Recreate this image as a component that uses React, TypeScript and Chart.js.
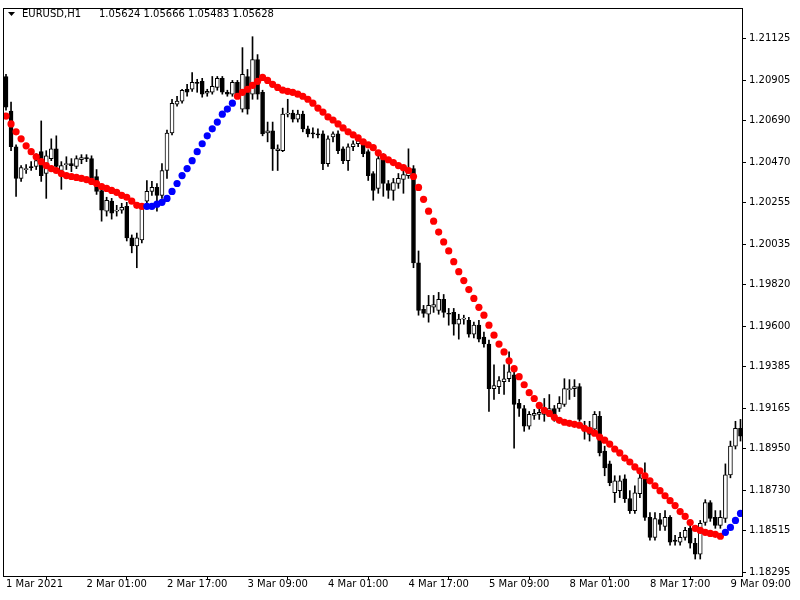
import React, { useEffect, useRef } from "react";
import { Chart, registerables } from "chart.js";

Chart.register(...registerables);

// Hourly EURUSD bars, 1 Mar 09:00 ... 9 Mar 11:00 (147 bars)
const openP = [
  1.20925, 1.20741, 1.20552, 1.20384, 1.20431, 1.20447, 1.20447, 1.20526, 1.2041, 1.20489,
  1.20541, 1.20426, 1.20457, 1.20462, 1.20447, 1.20483, 1.20494, 1.20489, 1.20394, 1.2032,
  1.2021, 1.20263, 1.2021, 1.20215, 1.20236, 1.20068, 1.20026, 1.20057, 1.20263, 1.20315,
  1.20336, 1.20294, 1.20426, 1.20625, 1.20778, 1.20794, 1.20857, 1.20857, 1.20894, 1.20899,
  1.20836, 1.20841, 1.20867, 1.20915, 1.20841, 1.20831, 1.20894, 1.20752, 1.20925, 1.20831,
  1.21015, 1.20841, 1.20625, 1.20636, 1.20531, 1.20531, 1.20725, 1.20731, 1.20699, 1.20725,
  1.20647, 1.20625, 1.2062, 1.2062, 1.20462, 1.20604, 1.2062, 1.20541, 1.20478, 1.20552,
  1.20568, 1.20568, 1.20526, 1.2041, 1.20331, 1.20499, 1.20357, 1.2032, 1.20357, 1.20378,
  1.20399, 1.20436, 1.19936, 1.19689, 1.19663, 1.197, 1.19684, 1.19742, 1.19668, 1.19673,
  1.1961, 1.19637, 1.19631, 1.19558, 1.19605, 1.19542, 1.19505, 1.19268, 1.19279, 1.19305,
  1.19321, 1.19342, 1.1919, 1.19163, 1.19069, 1.19126, 1.19132, 1.19132, 1.19147, 1.19163,
  1.19163, 1.19184, 1.19263, 1.19268, 1.19279, 1.19058, 1.19053, 1.19053, 1.19121, 1.18937,
  1.18869, 1.18716, 1.18727, 1.1879, 1.18685, 1.18621, 1.18711, 1.18806, 1.18585, 1.18479,
  1.18574, 1.18537, 1.18585, 1.18464, 1.18453, 1.18479, 1.18527, 1.18448, 1.1839, 1.18558,
  1.18664, 1.18585, 1.18543, 1.18579, 1.18811, 1.18963, 1.19058,
];

const highP = [
  1.20936, 1.20789, 1.20562, 1.20452, 1.20457, 1.20473, 1.20515, 1.20689, 1.20531, 1.20594,
  1.2061, 1.20473, 1.20499, 1.20489, 1.20504, 1.2051, 1.2051, 1.20504, 1.20431, 1.20336,
  1.20284, 1.20278, 1.20241, 1.20252, 1.20257, 1.20084, 1.20094, 1.20252, 1.20373, 1.20368,
  1.20357, 1.20462, 1.20641, 1.20804, 1.2082, 1.20857, 1.20883, 1.20946, 1.2091, 1.20915,
  1.20857, 1.20925, 1.20925, 1.20925, 1.20852, 1.20904, 1.20904, 1.21078, 1.20962, 1.21136,
  1.21041, 1.20852, 1.20683, 1.20683, 1.20562, 1.20757, 1.20804, 1.20746, 1.20746, 1.20741,
  1.20662, 1.20652, 1.20647, 1.20636, 1.2061, 1.20631, 1.20636, 1.20552, 1.20568, 1.20583,
  1.20604, 1.20583, 1.20536, 1.2042, 1.20515, 1.20515, 1.20373, 1.20384, 1.2041, 1.20452,
  1.20541, 1.20452, 1.19999, 1.1971, 1.19763, 1.19763, 1.19779, 1.19768, 1.19694, 1.19694,
  1.19663, 1.19658, 1.19647, 1.19621, 1.19631, 1.19568, 1.19526, 1.19395, 1.19332, 1.19395,
  1.19463, 1.19368, 1.19211, 1.19179, 1.19147, 1.19158, 1.19174, 1.19216, 1.19237, 1.19179,
  1.19226, 1.19321, 1.19316, 1.19316, 1.19295, 1.19095, 1.19095, 1.19147, 1.19147, 1.18963,
  1.18884, 1.18806, 1.18806, 1.18811, 1.18727, 1.18753, 1.18821, 1.18874, 1.18611, 1.18611,
  1.18606, 1.18621, 1.18595, 1.1849, 1.18506, 1.18532, 1.18569, 1.18474, 1.18569, 1.18679,
  1.18674, 1.18621, 1.18621, 1.18869, 1.1899, 1.19095, 1.19105,
];

const lowP = [
  1.20746, 1.20531, 1.20289, 1.20368, 1.2041, 1.20426, 1.20431, 1.20368, 1.20278, 1.20478,
  1.20431, 1.20326, 1.20431, 1.2042, 1.20436, 1.20462, 1.20473, 1.20368, 1.20299, 1.20157,
  1.20184, 1.20168, 1.20184, 1.20199, 1.20052, 1.19989, 1.1991, 1.20042, 1.20226, 1.20294,
  1.2021, 1.20278, 1.20384, 1.20615, 1.20767, 1.20783, 1.2082, 1.20846, 1.20841, 1.20815,
  1.2082, 1.20831, 1.20852, 1.20831, 1.2082, 1.2082, 1.20815, 1.20736, 1.20725, 1.20804,
  1.20804, 1.2061, 1.20578, 1.20426, 1.20426, 1.20526, 1.2071, 1.20683, 1.20683, 1.20631,
  1.20604, 1.20599, 1.20599, 1.20431, 1.20447, 1.20578, 1.20515, 1.20462, 1.20426, 1.20531,
  1.20552, 1.20499, 1.20373, 1.20268, 1.20305, 1.20289, 1.20278, 1.20268, 1.20331, 1.20305,
  1.20384, 1.1991, 1.19658, 1.19647, 1.19621, 1.19673, 1.19663, 1.19647, 1.19605, 1.19552,
  1.19531, 1.1961, 1.19542, 1.19537, 1.19516, 1.19489, 1.19147, 1.19211, 1.19242, 1.19237,
  1.19305, 1.18953, 1.19121, 1.19042, 1.19053, 1.19105, 1.19105, 1.19095, 1.19121, 1.19095,
  1.19147, 1.19174, 1.19211, 1.19226, 1.19095, 1.19, 1.1899, 1.19026, 1.18911, 1.18806,
  1.18753, 1.18664, 1.1869, 1.18664, 1.18606, 1.18606, 1.1869, 1.18569, 1.18464, 1.18464,
  1.18516, 1.18516, 1.18437, 1.18437, 1.18437, 1.18464, 1.18422, 1.18364, 1.18364, 1.18543,
  1.18564, 1.18527, 1.18527, 1.18558, 1.18795, 1.18948, 1.1899,
];

const closeP = [
  1.20762, 1.20552, 1.20384, 1.20441, 1.20436, 1.20441, 1.20478, 1.20399, 1.20504, 1.20541,
  1.20447, 1.20452, 1.20462, 1.20452, 1.20489, 1.20494, 1.20489, 1.20384, 1.20315, 1.20215,
  1.20268, 1.20199, 1.20215, 1.20231, 1.20068, 1.20026, 1.20068, 1.20236, 1.20315, 1.20336,
  1.20294, 1.20426, 1.20625, 1.20783, 1.20794, 1.20852, 1.20841, 1.20894, 1.20888, 1.20831,
  1.20846, 1.20873, 1.20915, 1.20841, 1.20831, 1.20894, 1.20831, 1.20936, 1.20752, 1.21015,
  1.20831, 1.2062, 1.20636, 1.20541, 1.20541, 1.20725, 1.20731, 1.20699, 1.20725, 1.20647,
  1.2062, 1.2062, 1.20615, 1.20462, 1.20594, 1.2062, 1.20531, 1.20478, 1.20552, 1.20568,
  1.20583, 1.20515, 1.20399, 1.2032, 1.20489, 1.20357, 1.2032, 1.20362, 1.20384, 1.20404,
  1.20415, 1.19936, 1.19684, 1.19668, 1.1971, 1.19715, 1.19742, 1.19673, 1.19663, 1.1961,
  1.19637, 1.19642, 1.19558, 1.19605, 1.19531, 1.19505, 1.19268, 1.19284, 1.19311, 1.19321,
  1.19358, 1.19184, 1.19163, 1.19069, 1.19132, 1.19137, 1.19142, 1.19163, 1.19163, 1.19111,
  1.1919, 1.19268, 1.19268, 1.19279, 1.19105, 1.19042, 1.19026, 1.19132, 1.18927, 1.18848,
  1.18769, 1.18779, 1.18779, 1.18685, 1.18621, 1.18716, 1.18795, 1.18585, 1.18479, 1.18579,
  1.18548, 1.18585, 1.18453, 1.18458, 1.18479, 1.18516, 1.18448, 1.1839, 1.18553, 1.18664,
  1.18579, 1.18543, 1.18585, 1.18811, 1.18963, 1.19058, 1.19016,
];

// Dotted moving-average indicator (one dot per bar)
const maValues = [
  1.20715, 1.20673, 1.20631, 1.20594, 1.20557, 1.20526, 1.20499, 1.20473, 1.20452, 1.20436,
  1.20426, 1.2041, 1.20399, 1.20394, 1.20389, 1.20384, 1.20378, 1.20368, 1.20357, 1.20341,
  1.20331, 1.2032, 1.2031, 1.20294, 1.20284, 1.20263, 1.20241, 1.20236, 1.20236, 1.20236,
  1.20247, 1.20257, 1.20278, 1.20315, 1.20357, 1.20399, 1.20436, 1.20478, 1.20526, 1.20568,
  1.2061, 1.20647, 1.20683, 1.20725, 1.20752, 1.20783, 1.2082, 1.20841, 1.20857, 1.20878,
  1.20899, 1.2092, 1.20904, 1.20883, 1.20867, 1.20852, 1.20846, 1.20841, 1.20831, 1.2082,
  1.20804, 1.20783, 1.20757, 1.20736, 1.2071, 1.20694, 1.20673, 1.20652, 1.20631, 1.20615,
  1.20599, 1.20578, 1.20562, 1.20547, 1.2052, 1.20499, 1.20483, 1.20468, 1.20452, 1.20441,
  1.20426, 1.20394, 1.20336, 1.20273, 1.2021, 1.20157, 1.20099, 1.20047, 1.19999, 1.19942,
  1.19889, 1.19842, 1.19794, 1.19747, 1.197, 1.19658, 1.19605, 1.19552, 1.19505, 1.19463,
  1.19416, 1.19374, 1.19332, 1.19289, 1.19247, 1.19216, 1.19179, 1.19153, 1.19137, 1.19116,
  1.191, 1.1909, 1.19084, 1.19079, 1.19074, 1.19058, 1.19047, 1.19032, 1.19011, 1.18995,
  1.18974, 1.18948, 1.18927, 1.189, 1.18879, 1.18853, 1.18832, 1.18806, 1.18779, 1.18753,
  1.18727, 1.187, 1.18674, 1.18648, 1.18616, 1.1859, 1.18558, 1.18527, 1.18516, 1.18506,
  1.185, 1.18495, 1.18485, 1.18506, 1.18532, 1.18569, 1.18606,
];

// bar ranges (inclusive) where the indicator is rising (blue)
const maUpRanges = [
  [28, 45],
  [143, 146],
];

const xTickIndex = [0, 16, 32, 48, 64, 80, 96, 112, 128, 144];
const xTickLabels = [
  "1 Mar 2021",
  "2 Mar 01:00",
  "2 Mar 17:00",
  "3 Mar 09:00",
  "4 Mar 01:00",
  "4 Mar 17:00",
  "5 Mar 09:00",
  "8 Mar 01:00",
  "8 Mar 17:00",
  "9 Mar 09:00",
];

const yTickValues = [
  1.21125, 1.20905, 1.2069, 1.2047, 1.20255, 1.20035, 1.1982, 1.196, 1.19385, 1.19165,
  1.1895, 1.1873, 1.18515, 1.18295,
];
const yTickLabels = [
  "1.21125", "1.20905", "1.20690", "1.20470", "1.20255", "1.20035", "1.19820",
  "1.19600", "1.19385", "1.19165", "1.18950", "1.18730", "1.18515", "1.18295",
];

const headerSymbol = "EURUSD,H1";
const headerOHLC = "1.05624 1.05666 1.05483 1.05628";

const Y_MIN = 1.18274;
const Y_MAX = 1.21283;
const X_MIN = -0.4;
const X_MAX = 146.3;

const FONT = "DejaVu Sans";

export default function App() {
  const canvasRef = useRef<HTMLCanvasElement | null>(null);

  useEffect(() => {
    const canvas = canvasRef.current;
    if (!canvas) return;
    const idx = openP.map((_, i) => i);
    const isUp = (i: number) => maUpRanges.some(([a, b]) => i >= a && i <= b);

    const framePlugin = {
      id: "frame",
      beforeDraw(chart: any) {
        const ctx = chart.ctx;
        ctx.save();
        ctx.fillStyle = "#ffffff";
        ctx.fillRect(0, 0, chart.width, chart.height);
        ctx.restore();
      },
      afterDraw(chart: any) {
        const { ctx, chartArea } = chart;
        const { left, top, right, bottom } = chartArea;
        ctx.save();
        ctx.strokeStyle = "#000";
        ctx.lineWidth = 1;
        ctx.strokeRect(Math.round(left) - 0.5, Math.round(top) - 0.5, Math.round(right - left) + 1, Math.round(bottom - top) + 1);
        // header
        ctx.fillStyle = "#000";
        ctx.beginPath();
        ctx.moveTo(8, 12);
        ctx.lineTo(15, 12);
        ctx.lineTo(11.5, 16);
        ctx.closePath();
        ctx.fill();
        ctx.font = `10px "${FONT}"`;
        ctx.textBaseline = "alphabetic";
        ctx.textAlign = "left";
        ctx.fillText(headerSymbol, 22, 17);
        ctx.fillText(headerOHLC, 99, 17);
        ctx.restore();
      },
    };

    const chart = new Chart(canvas, {
      type: "bar",
      data: {
        datasets: [
          {
            type: "line",
            label: "MA",
            data: idx.map((i) => ({ x: i, y: maValues[i] })),
            showLine: false,
            pointRadius: 3.6,
            pointHoverRadius: 3.6,
            pointBorderWidth: 0,
            pointBackgroundColor: idx.map((i) => (isUp(i) ? "#0000ff" : "#ff0000")),
            pointBorderColor: idx.map((i) => (isUp(i) ? "#0000ff" : "#ff0000")),
            order: 0,
          } as any,
          {
            type: "bar",
            label: "body",
            data: idx.map((i) => ({ x: i, y: [openP[i], closeP[i]] })) as any,
            backgroundColor: idx.map((i) => (closeP[i] >= openP[i] ? "#ffffff" : "#000000")),
            borderColor: "#000000",
            borderWidth: 1,
            borderSkipped: false,
            barThickness: 4,
            minBarLength: 1,
            grouped: false,
            order: 1,
          } as any,
          {
            type: "bar",
            label: "wick",
            data: idx.map((i) => ({ x: i, y: [lowP[i], highP[i]] })) as any,
            backgroundColor: "#000000",
            borderWidth: 0,
            barThickness: 1,
            grouped: false,
            order: 2,
          } as any,
        ],
      },
      options: {
        responsive: false,
        maintainAspectRatio: false,
        animation: false,
        devicePixelRatio: 1,
        layout: { padding: { top: 4, left: 4, right: 0, bottom: 0 }, autoPadding: false } as any,
        plugins: {
          legend: { display: false },
          tooltip: { enabled: false },
          title: { display: false },
        },
        scales: {
          x: {
            type: "linear",
            min: X_MIN,
            max: X_MAX,
            offset: false,
            afterBuildTicks: (s: any) => {
              s.ticks = xTickIndex.map((v) => ({ value: v }));
            },
            afterFit: (s: any) => {
              s.height = 24;
            },
            ticks: {
              autoSkip: false,
              maxRotation: 0,
              minRotation: 0,
              align: "start",
              padding: -2,
              color: "#000",
              font: { family: FONT, size: 10 },
              callback: (v: any) => {
                const k = xTickIndex.indexOf(Number(v));
                return k >= 0 ? xTickLabels[k] : "";
              },
            },
            grid: { drawOnChartArea: false, drawTicks: true, tickLength: 4, color: "#000", lineWidth: 1 },
            border: { display: false },
          },
          y: {
            type: "linear",
            position: "right",
            min: Y_MIN,
            max: Y_MAX,
            afterBuildTicks: (s: any) => {
              s.ticks = yTickValues.map((v) => ({ value: v }));
            },
            afterFit: (s: any) => {
              s.width = 58;
            },
            ticks: {
              autoSkip: false,
              padding: 3,
              color: "#000",
              font: { family: FONT, size: 10 },
              callback: (v: any) => {
                const k = yTickValues.indexOf(Number(v));
                return k >= 0 ? yTickLabels[k] : "";
              },
            },
            grid: { drawOnChartArea: false, drawTicks: true, tickLength: 4, color: "#000", lineWidth: 1 },
            border: { display: false },
          },
        },
      } as any,
      plugins: [framePlugin],
    });

    return () => {
      chart.destroy();
    };
  }, []);

  return (
    <div style={{ position: "absolute", left: 0, top: 0, width: 800, height: 600, background: "#fff" }}>
      <canvas ref={canvasRef} width={800} height={600} style={{ display: "block", width: 800, height: 600 }} />
    </div>
  );
}
